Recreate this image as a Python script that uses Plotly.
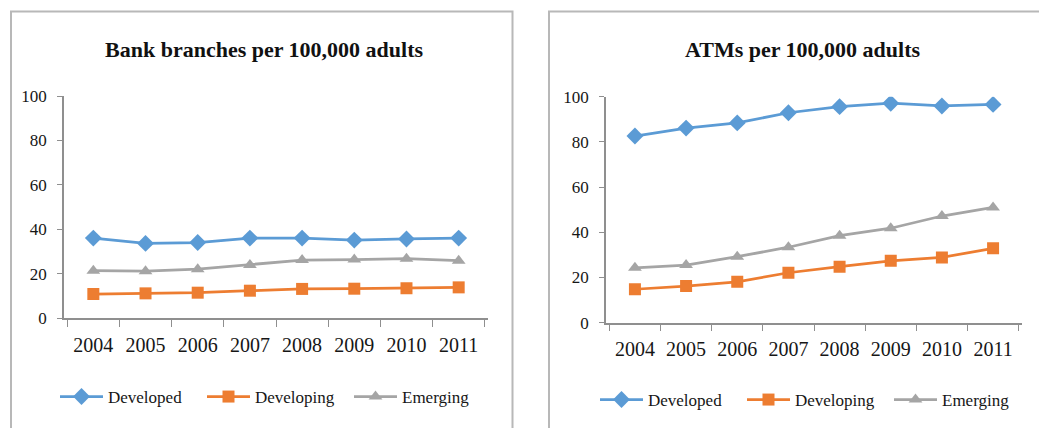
import plotly.graph_objects as go

years = ["2004", "2005", "2006", "2007", "2008", "2009", "2010", "2011"]

branches_developed = [36.0, 33.6, 34.0, 36.0, 36.0, 35.1, 35.6, 36.0]
branches_developing = [10.8, 11.1, 11.4, 12.3, 13.1, 13.2, 13.4, 13.8]
branches_emerging = [21.3, 21.1, 22.0, 23.9, 26.1, 26.3, 26.7, 25.8]

atms_developed = [82.6, 86.1, 88.4, 92.9, 95.6, 97.1, 95.9, 96.6]
atms_developing = [14.8, 16.2, 18.1, 22.1, 24.8, 27.4, 28.9, 32.9]
atms_emerging = [24.3, 25.5, 29.2, 33.4, 38.5, 41.8, 47.2, 51.0]

series_names = ["Developed", "Developing", "Emerging"]
titles = ["Bank branches per 100,000 adults", "ATMs per 100,000 adults"]
ytick_values = [0, 20, 40, 60, 80, 100]

colors = ["#5B9BD5", "#ED7D31", "#A5A5A5"]
symbols = ["diamond", "square", "triangle-up"]
sizes = [13, 12, 12]

W, H = 1047, 428
OFF = 8  # page body margin in the browser
FONT = "Liberation Serif"
TXT = "#161616"


def px_x(p):
    return (p - OFF) / W


def px_y(p):
    return (H - (p - OFF)) / H


fig = go.Figure()

left = [branches_developed, branches_developing, branches_emerging]
right = [atms_developed, atms_developing, atms_emerging]

for i, name in enumerate(series_names):
    fig.add_trace(go.Scatter(
        x=years, y=left[i], name=name, mode="lines+markers",
        line=dict(color=colors[i], width=2.75),
        marker=dict(symbol=symbols[i], size=sizes[i], color=colors[i]),
        xaxis="x", yaxis="y", legend="legend"))
for i, name in enumerate(series_names):
    fig.add_trace(go.Scatter(
        x=years, y=right[i], name=name, mode="lines+markers",
        line=dict(color=colors[i], width=2.75),
        marker=dict(symbol=symbols[i], size=sizes[i], color=colors[i]),
        xaxis="x2", yaxis="y2", legend="legend2"))

axis_line = "#8f8f8f"
xtick_font = dict(family=FONT, size=20, color=TXT)
ytick_font = dict(family=FONT, size=17, color=TXT)

xcommon = dict(type="category", showgrid=False, zeroline=False, showline=True,
               linecolor=axis_line, linewidth=1.5, ticks="outside", ticklen=7,
               tickwidth=1.2, tickcolor=axis_line, tickson="boundaries",
               tickfont=xtick_font, ticklabelstandoff=8, fixedrange=True,
               automargin=False)
ycommon = dict(range=[0, 100], tickvals=ytick_values, showgrid=False,
               zeroline=False, showline=True, linecolor=axis_line, linewidth=1.5,
               ticks="outside", ticklen=5, tickwidth=1.2, tickcolor=axis_line,
               tickfont=ytick_font, ticklabelstandoff=7, fixedrange=True,
               automargin=False)

legend_common = dict(orientation="h", xanchor="left", yanchor="middle",
                     font=dict(family=FONT, size=17, color=TXT),
                     entrywidth=89, itemwidth=43, bgcolor="rgba(0,0,0,0)")

fig.update_layout(
    width=W, height=H,
    margin=dict(l=0, r=0, t=0, b=0, pad=0, autoexpand=False),
    paper_bgcolor="white", plot_bgcolor="white",
    font=dict(family=FONT, color=TXT),
    xaxis=dict(domain=[px_x(64), px_x(488)], anchor="y", **xcommon),
    yaxis=dict(domain=[px_y(318), px_y(96)], anchor="x", **ycommon),
    xaxis2=dict(domain=[px_x(606), px_x(1022)], anchor="y2", **xcommon),
    yaxis2=dict(domain=[px_y(322.7), px_y(96.7)], anchor="x2", **ycommon),
    legend=dict(x=px_x(55), y=px_y(397), **legend_common),
    legend2=dict(x=px_x(595), y=px_y(400), **legend_common),
    showlegend=True,
    annotations=[
        dict(text="<b>%s</b>" % titles[0], x=px_x(264), y=px_y(49),
             xref="paper", yref="paper", showarrow=False, xanchor="center", yanchor="middle",
             font=dict(family=FONT, size=22, color="#111111")),
        dict(text="<b>%s</b>" % titles[1], x=px_x(803), y=px_y(49),
             xref="paper", yref="paper", showarrow=False, xanchor="center", yanchor="middle",
             font=dict(family=FONT, size=22, color="#111111")),
    ],
    shapes=[
        dict(type="rect", xref="paper", yref="paper", x0=px_x(11), x1=px_x(512.5),
             y0=-0.1, y1=px_y(11.5), line=dict(color="#b8b8b8", width=2)),
        dict(type="rect", xref="paper", yref="paper", x0=px_x(549), x1=1.1,
             y0=-0.1, y1=px_y(11.5), line=dict(color="#b8b8b8", width=2)),
    ],
)

fig.write_html("out.html")
